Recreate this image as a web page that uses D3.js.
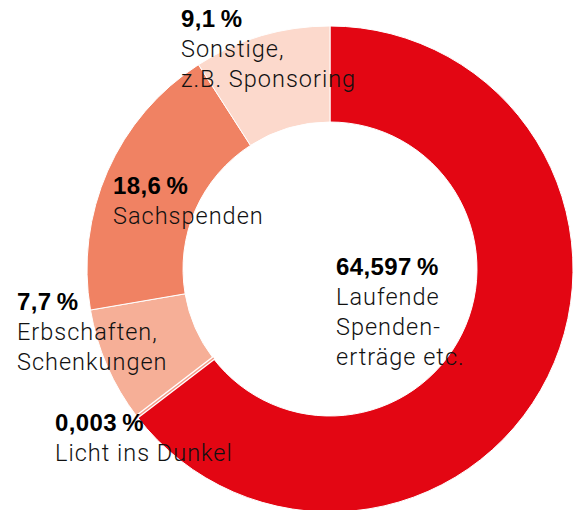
<!DOCTYPE html>
<html>
<head>
<meta charset="utf-8">
<script src="https://cdn.jsdelivr.net/npm/d3@7"></script>
<style>
  body { margin: 0; background: #fff; }
  svg { display: block; }
  .pct { font-family: "Liberation Sans", Arial, sans-serif; font-weight: bold; font-size: 24px; letter-spacing: 0.4px; fill: #000; }
  .lbl { font-family: Roboto, "Liberation Sans", sans-serif; font-weight: 300; font-size: 23.5px; letter-spacing: 1px; fill: #111; }
</style>
</head>
<body>
<div id="chart"></div>
<script>
// Einnahmen nach Herkunft (Anteile in %)
const categories = ["Laufende Spendenerträge etc.", "Licht ins Dunkel", "Erbschaften, Schenkungen", "Sachspenden", "Sonstige, z.B. Sponsoring"];
const shares = [64.597, 0.003, 7.7, 18.6, 9.1];
const labelLines = [
    ["Laufende", "Spenden-", "erträge etc."],
    ["Licht ins Dunkel"],
    ["Erbschaften,", "Schenkungen"],
    ["Sachspenden"],
    ["Sonstige,", "z.B. Sponsoring"]
];
const colors = ["#e30613", "#f39a86", "#f6af97", "#f08263", "#fcd9cc"];

// label anchor (left x, first baseline)
const labelPos = [[336, 275], [55, 431], [17, 310], [113, 194], [181, 27]];

const width = 574, height = 510;
const cx = 330, cy = 269;
const outerR = 243, innerR = 147;

const svg = d3.select("#chart")
    .append("svg")
    .attr("width", width)
    .attr("height", height);

const pie = d3.pie().sort(null).value(d => d)(shares);

const arc = d3.arc()
    .innerRadius(innerR)
    .outerRadius(outerR);

const g = svg.append("g")
    .attr("transform", "translate(" + cx + "," + cy + ")");

g.selectAll(".slice")
    .data(pie)
    .enter().append("path")
    .attr("class", "slice")
    .attr("d", arc)
    .style("fill", (d, i) => colors[i])
    .style("stroke", "#fff")
    .style("stroke-width", 1);

// the tiny slice would vanish, so draw it as a hairline between two white gaps
const tiny = pie.filter(d => (d.endAngle - d.startAngle) < 0.01);
g.selectAll(".tiny-gap")
    .data(tiny)
    .enter().append("path")
    .attr("d", arc)
    .style("fill", "none")
    .style("stroke", "#fff")
    .style("stroke-width", 4);
g.selectAll(".tiny")
    .data(tiny)
    .enter().append("path")
    .attr("d", arc)
    .style("fill", "none")
    .style("stroke", d => colors[d.index])
    .style("stroke-width", 1.3);

// labels
const lineH = 30;
categories.forEach((c, i) => {
    const [x, y] = labelPos[i];
    const t = svg.append("g").attr("transform", "translate(" + x + "," + y + ")");
    t.append("text")
        .attr("class", "pct")
        .text(String(shares[i]).replace(".", ",") + "\u2009%");
    labelLines[i].forEach((l, j) => {
        t.append("text")
            .attr("class", "lbl")
            .attr("y", (j + 1) * lineH)
            .text(l);
    });
});
</script>
</body>
</html>
